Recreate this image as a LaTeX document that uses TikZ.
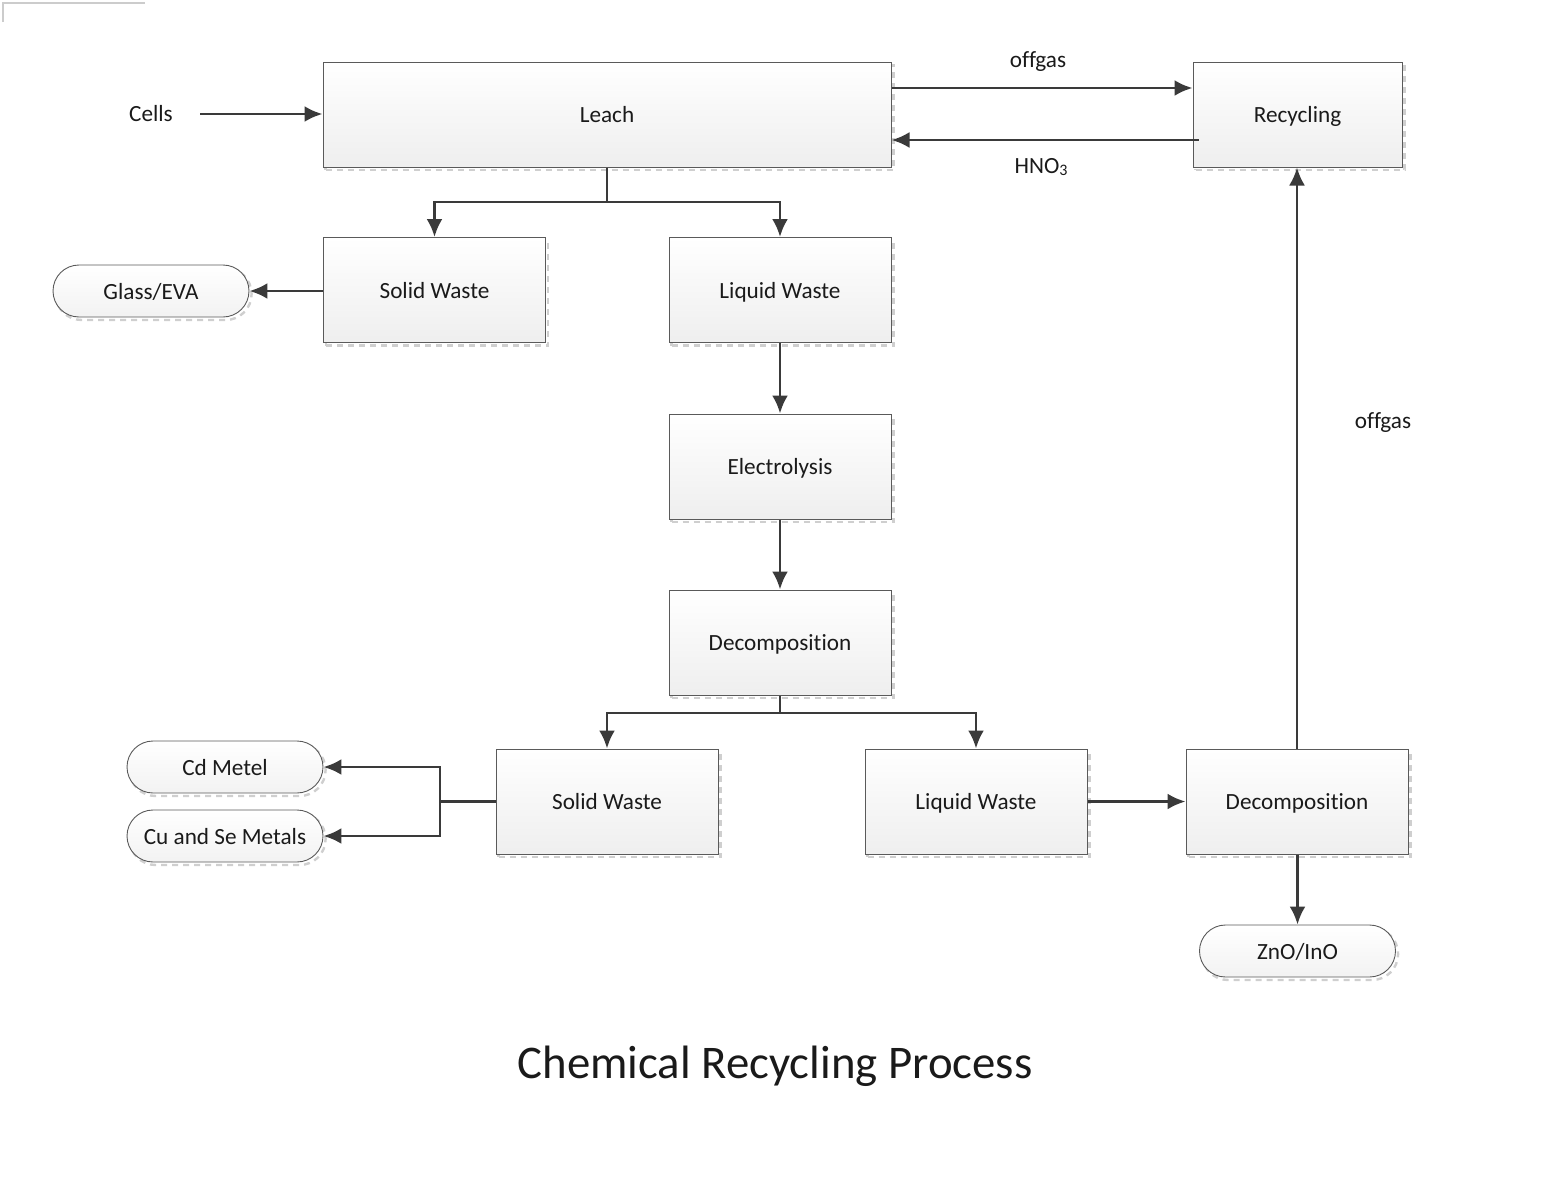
\documentclass[tikz,border=0pt]{standalone}
\usepackage{fontspec}
\setmainfont{Carlito}[Ligatures=NoCommon]
\usetikzlibrary{arrows.meta}
\definecolor{edgec}{HTML}{5A5A5A}
\definecolor{arrc}{HTML}{3A3A3A}
\definecolor{txtc}{HTML}{1A1A1A}
\tikzset{
  shadowdash/.style={preaction={draw=gray!38, dash pattern=on 3pt off 2.5pt, line width=1.2pt,
      transform canvas={shift={(1.3pt,-1.5pt)}}}},
  procbox/.style={shadowdash, draw=edgec, line width=0.5pt, top color=white, bottom color=gray!13,
      minimum width=111pt, minimum height=52.5pt, inner sep=0pt, text=txtc,
      text height=8.4pt, text depth=0pt, font=\fontsize{11.6pt}{14pt}\selectfont},
  termbox/.style={shadowdash, draw=edgec, line width=0.45pt, top color=white, bottom color=gray!10,
      rounded corners=13pt, minimum width=98pt, minimum height=26pt, inner sep=0pt, text=txtc,
      text height=8.4pt, text depth=0pt, font=\fontsize{11.6pt}{14pt}\selectfont},
  lbl/.style={text=txtc, inner sep=0pt, font=\fontsize{11.6pt}{14pt}\selectfont},
  flow/.style={draw=arrc, line width=1.4pt, -{Latex[length=9pt,width=8pt]}},
  flowline/.style={draw=arrc, line width=1.4pt},
}
\begin{document}
\begin{tikzpicture}[x=0.5pt,y=-0.5pt]
\useasboundingbox (0,0) rectangle (1552,1199);
\draw[gray!40, line width=0.8pt] (3,22) -- (3,3) -- (145,3);

% process boxes
\node[procbox, minimum width=284pt] (leach) at (607,114.5) {Leach};
\node[procbox, minimum width=104.5pt] (recyc) at (1297.5,114.5) {Recycling};
\node[procbox] (sw1) at (434.5,290) {Solid Waste};
\node[procbox] (lw1) at (780,290) {Liquid Waste};
\node[procbox] (elec) at (780,466.5) {Electrolysis};
\node[procbox] (dec1) at (780,642.5) {Decomposition};
\node[procbox] (sw2) at (607,801.5) {Solid Waste};
\node[procbox] (lw2) at (976,801.5) {Liquid Waste};
\node[procbox] (dec2) at (1297,801.5) {Decomposition};

% terminals
\node[termbox] (glass) at (151,291) {Glass/EVA};
\node[termbox] (cd) at (225,767) {Cd Metel};
\node[termbox] (cu) at (225,836) {Cu and Se Metals};
\node[termbox] (zno) at (1297.5,951) {ZnO/InO};

% labels
\node[lbl] (cells) at (151,114) {Cells};
\node[lbl] (offgas1) at (1038,62) {offgas};
\node[lbl] (hno) at (1041,167) {HNO\raisebox{-0.25ex}{\fontsize{8pt}{9pt}\selectfont 3}};
\node[lbl] (offgas2) at (1383,423) {offgas};
\node[text=txtc, inner sep=0pt, font=\fontsize{23.4pt}{28pt}\selectfont] (title) at (775,1066) {Chemical Recycling Process};

% coordinates
\coordinate (cellsend) at (200,114);
\coordinate (j1) at (607,202);
\coordinate (j2) at (780,713);
\coordinate (j3) at (440,801.5);

% connectors
\draw[flow] (cellsend) -- (leach.west |- cellsend);
\draw[flow] (leach.east |- 0,88) -- (recyc.west |- 0,88);
\draw[flow] ([xshift=3pt]recyc.west |- 0,140) -- (leach.east |- 0,140);
\draw[flowline] (leach.south) -- (j1);
\draw[flow] (j1) -| (sw1.north);
\draw[flow] (j1) -| (lw1.north);
\draw[flow] (sw1.west |- glass.east) -- (glass.east);
\draw[flow] (lw1.south) -- (elec.north);
\draw[flow] (elec.south) -- (dec1.north);
\draw[flowline] (dec1.south) -- (j2);
\draw[flow] (j2) -| (sw2.north);
\draw[flow] (j2) -| (lw2.north);
\draw[flowline] (sw2.west) -- (j3);
\draw[flow] (j3) |- (cd.east);
\draw[flow] (j3) |- (cu.east);
\draw[flow] (lw2.east) -- (dec2.west);
\draw[flow] (dec2.south -| zno.north) -- (zno.north);
\draw[flow] (dec2.north) -- (recyc.south -| dec2.north);
\end{tikzpicture}
\end{document}
